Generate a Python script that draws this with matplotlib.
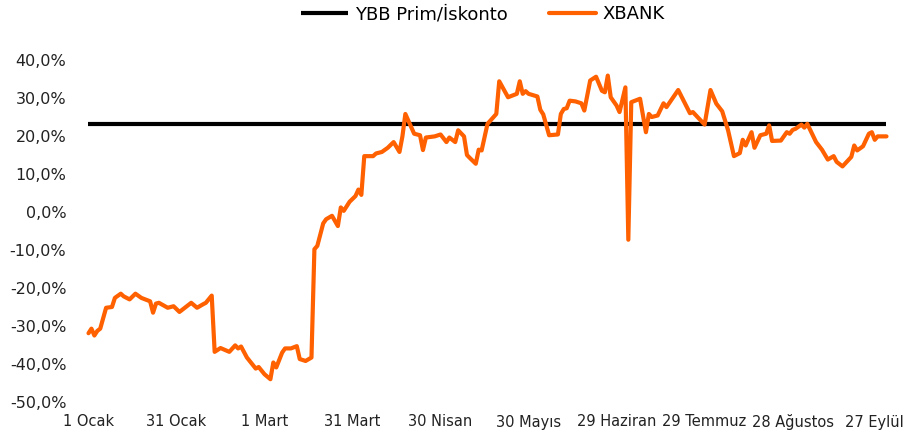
import pandas as pd
import numpy as np
import matplotlib
matplotlib.use('Agg')
import matplotlib.pyplot as plt

# 2024 basindan itibaren gun sayisi
gun = [0, 1, 2, 3, 4, 6, 8, 9, 11, 12, 14, 16, 18, 20, 21, 22, 23, 24, 27, 29,
       31, 35, 37, 39, 40, 42, 43, 45, 48, 50, 51, 52, 54, 57, 58, 60, 62, 63, 64, 66,
       67, 69, 71, 72, 74, 76, 77, 78, 80, 81, 83, 85, 86, 87, 89, 91, 92, 93, 94, 96,
       97, 98, 100, 102, 104, 106, 107, 108, 110, 111, 113, 114, 115, 118, 120, 122, 123, 125, 126, 128,
       129, 130, 132, 133, 134, 136, 139, 140, 143, 146, 147, 148, 149, 150, 153, 154, 155, 157, 160, 161,
       162, 163, 164, 166, 168, 169, 171, 173, 175, 176, 177, 178, 180, 181, 183, 184, 185, 188, 190, 191,
       192, 194, 196, 197, 201, 205, 206, 210, 212, 214, 216, 218, 220, 222, 223, 224, 226, 227, 229, 231,
       232, 233, 236, 238, 239, 240, 241, 243, 244, 245, 248, 250, 252, 254, 255, 257, 260, 261, 262, 264,
       266, 267, 268, 269, 272]

xbank = [-31.9, -30.7, -32.5, -31.3, -30.7, -25.2, -25.0, -22.6, -21.5, -22.2, -23.0, -21.5, -22.6, -23.2, -23.5, -26.5, -24.1, -23.9, -25.2, -24.8,
         -26.3, -23.9, -25.2, -24.3, -23.9, -22.0, -36.8, -35.8, -36.8, -35.1, -35.9, -35.4, -38.3, -41.2, -40.8, -42.7, -44.0, -39.6, -40.9, -37.0,
         -35.9, -35.9, -35.3, -38.7, -39.2, -38.3, -9.8, -8.9, -3.0, -1.9, -1.0, -3.7, 1.2, 0.3, 2.7, 4.2, 5.9, 4.5, 14.7, 14.7,
         14.7, 15.4, 15.8, 16.9, 18.4, 15.8, 19.9, 25.8, 22.3, 20.6, 20.2, 16.3, 19.6, 19.9, 20.4, 18.4, 19.6, 18.4, 21.5, 19.9,
         15.0, 14.2, 12.7, 16.4, 16.2, 23.2, 25.8, 34.4, 30.2, 31.1, 34.4, 31.1, 31.8, 31.1, 30.4, 26.9, 25.7, 20.2, 20.4, 25.8,
         27.1, 27.3, 29.3, 29.1, 28.6, 26.7, 34.6, 35.6, 31.9, 31.5, 35.9, 30.2, 28.0, 26.3, 32.8, -7.3, 28.9, 29.8, 21.0, 25.8,
         25.0, 25.4, 28.6, 27.6, 32.1, 26.0, 26.3, 23.0, 32.1, 28.5, 26.5, 21.5, 14.7, 15.5, 19.0, 17.5, 21.0, 16.9, 20.2, 20.6,
         22.8, 18.7, 18.8, 21.0, 20.6, 21.6, 21.9, 23.0, 22.2, 23.2, 18.4, 16.4, 13.8, 14.7, 13.2, 12.0, 14.5, 17.5, 16.2, 17.3,
         20.6, 21.0, 19.0, 19.9, 19.9]

ybb_prim = 23.2

tick_gun = [0, 30, 60, 90, 120, 150, 180, 210, 240, 270]
tick_etiket = ['1 Ocak', '31 Ocak', '1 Mart', '31 Mart', '30 Nisan', '30 Mayıs',
               '29 Haziran', '29 Temmuz', '28 Ağustos', '27 Eylül']
y_ticks = [-50, -40, -30, -20, -10, 0, 10, 20, 30, 40]

baslangic = pd.Timestamp('2024-01-01')
tarih = baslangic + pd.to_timedelta(gun, unit='D')
tick_tarih = baslangic + pd.to_timedelta(tick_gun, unit='D')

plt.rcParams['font.family'] = ['DejaVu Sans']

fig = plt.figure(figsize=(9.07, 4.38), dpi=100)
ax = fig.add_axes([88.5 / 907, 36 / 438, (886.5 - 88.5) / 907, 342 / 438])

ax.plot([tarih[0], tarih[-1]], [ybb_prim, ybb_prim], color='black', lw=3,
        solid_capstyle='butt', label='YBB Prim/İskonto', clip_on=False)
ax.plot(tarih, xbank, color='#FF6000', lw=3, solid_joinstyle='round',
        solid_capstyle='round', label='XBANK', clip_on=False)

ax.set_xlim(tarih[0], tarih[-1])
ax.set_ylim(-50, 40)
ax.set_xticks(tick_tarih)
# son etiket kenara tasmasin diye ayri yaziliyor
ax.set_xticklabels(tick_etiket[:-1] + [''], fontsize=10.5, color='#222222')
ax.annotate(tick_etiket[-1], xy=(tick_tarih[-1], 0), xycoords=('data', 'axes fraction'),
            xytext=(17, -9), textcoords='offset points', ha='right', va='top',
            fontsize=10.5, color='#222222', annotation_clip=False)
ax.set_yticks(y_ticks)
ax.set_yticklabels([f'{v:.1f}%'.replace('.', ',') for v in y_ticks], fontsize=11.5, color='#222222')
ax.tick_params(axis='both', length=0)
ax.tick_params(axis='x', pad=9)
ax.tick_params(axis='y', pad=16)
for s in ax.spines.values():
    s.set_visible(False)

fig.legend(loc='upper center', bbox_to_anchor=(483 / 907, 1.025), ncol=2, frameon=False,
           fontsize=13, handlelength=2.6, handletextpad=0.35, columnspacing=2.3)

fig.savefig('out.png', dpi=100)
